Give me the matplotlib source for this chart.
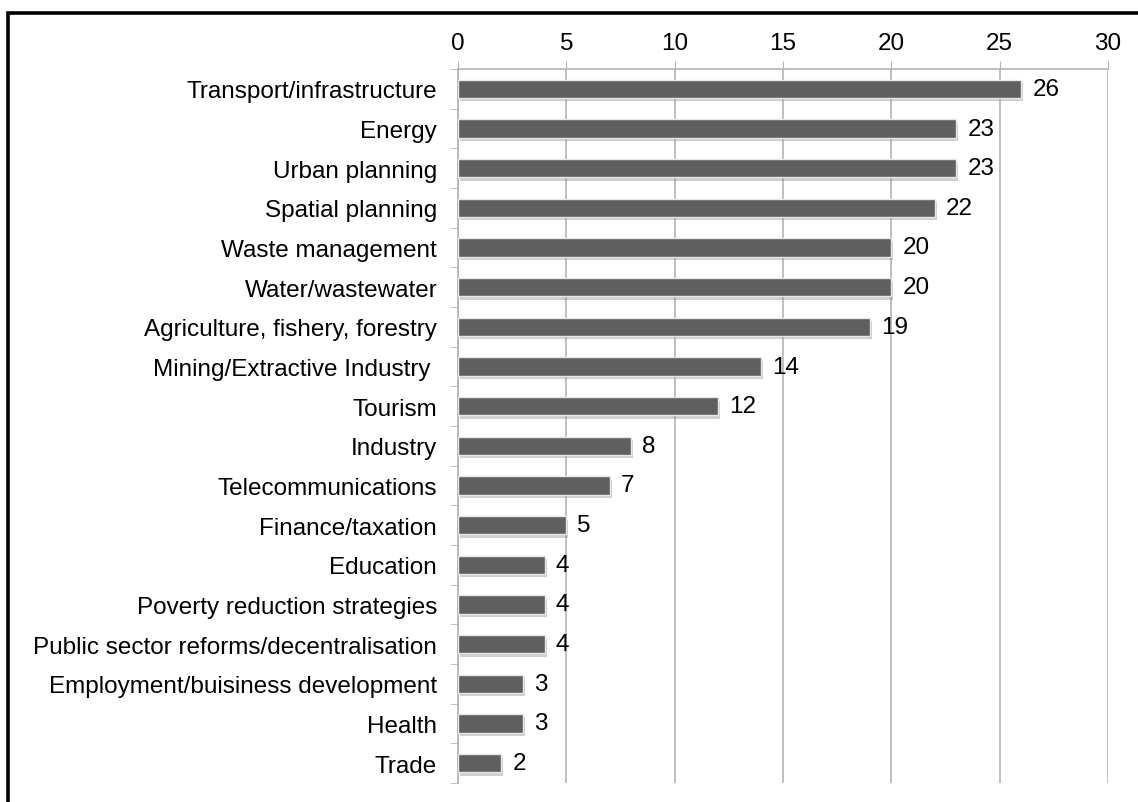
import matplotlib
matplotlib.use('Agg')
import matplotlib.pyplot as plt
import matplotlib.patheffects as pe
from matplotlib.patches import Rectangle
from matplotlib.ticker import FixedLocator

plt.rcParams['font.family'] = ['Liberation Sans', 'DejaVu Sans']

sectors = [
    'Transport/infrastructure', 'Energy', 'Urban planning', 'Spatial planning',
    'Waste management', 'Water/wastewater', 'Agriculture, fishery, forestry',
    'Mining/Extractive Industry ', 'Tourism', 'Industry', 'Telecommunications',
    'Finance/taxation', 'Education', 'Poverty reduction strategies',
    'Public sector reforms/decentralisation', 'Employment/buisiness development',
    'Health', 'Trade',
]
counts = [26, 23, 23, 22, 20, 20, 19, 14, 12, 8, 7, 5, 4, 4, 4, 3, 3, 2]
x_ticks = [0, 5, 10, 15, 20, 25, 30]

GRID = '#b4b4b4'
FS = 17.5

fig = plt.figure(figsize=(11.38, 8.03), dpi=100)
ax = fig.add_axes([458 / 1138, 1 - 784 / 803, 650 / 1138, 714 / 803])

# outer frame, running off the right and bottom edges
fig.patches.append(Rectangle((7.5 / 1138, -0.05), 1.1, 1 - 13.5 / 803 + 0.05,
                             transform=fig.transFigure, fill=False,
                             edgecolor='black', linewidth=2.6, zorder=0))

y = list(range(len(sectors)))
bars = ax.barh(y, counts, height=0.46, color='#5f5f5f', edgecolor='#e6e6e6',
               linewidth=1.0, zorder=3)
for b in bars:
    b.set_path_effects([pe.SimplePatchShadow(offset=(1.5, -2.5), shadow_rgbFace='#888888',
                                             alpha=0.4),
                        pe.Normal()])

for yi, v in zip(y, counts):
    ax.annotate(str(v), (v, yi), xytext=(8, 0), textcoords='offset points',
                va='center', ha='left', fontsize=FS)

ax.set_xlim(0, 30)
ax.set_ylim(len(sectors) - 0.5, -0.5)
ax.xaxis.tick_top()
ax.set_xticks(x_ticks)
ax.tick_params(axis='x', which='major', direction='out', length=6, color=GRID,
               labelsize=FS, pad=5)
ax.set_yticks(y)
ax.set_yticklabels(sectors)
ax.tick_params(axis='y', which='major', length=0, labelsize=FS, pad=15)
ax.yaxis.set_minor_locator(FixedLocator([i - 0.5 for i in range(len(sectors) + 1)]))
ax.tick_params(axis='y', which='minor', direction='out', length=6, color=GRID)

ax.grid(axis='x', color=GRID, linewidth=1.2, zorder=0)
ax.set_axisbelow(True)
for side in ['right', 'bottom']:
    ax.spines[side].set_visible(False)
for side in ['left', 'top']:
    ax.spines[side].set_color(GRID)
    ax.spines[side].set_linewidth(1.2)

fig.savefig('out.png', dpi=100)
